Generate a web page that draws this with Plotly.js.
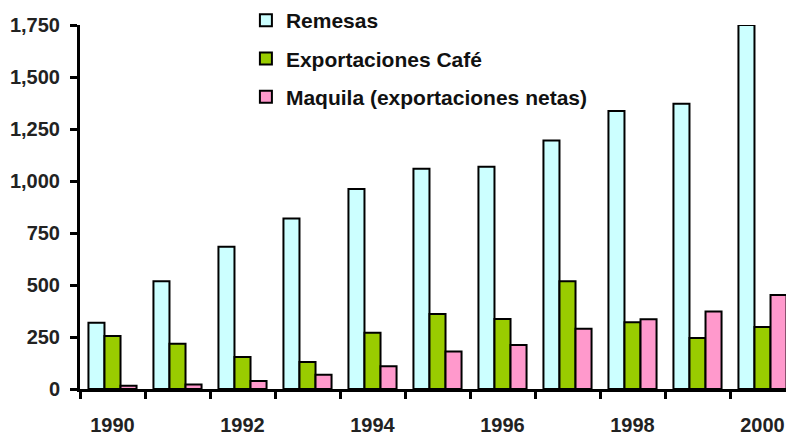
<!DOCTYPE html>
<html>
<head>
<meta charset="utf-8">
<script src="https://cdn.plot.ly/plotly-3.0.1.min.js"></script>
<style>html,body{margin:0;padding:0;background:#fff;overflow:hidden}</style>
</head>
<body>
<div id="chart" style="width:786px;height:441px"></div>
<script>
var years = [1990, 1991, 1992, 1993, 1994, 1995, 1996, 1997, 1998, 1999, 2000];
var tickYears = [1990, 1992, 1994, 1996, 1998, 2000];
var remesas = [318, 518, 684, 820, 961, 1059, 1069, 1195, 1337, 1371, 1750];
var cafe = [255, 218, 154, 130, 271, 361, 337, 518, 321, 245, 298];
var maquila = [16, 22, 38, 69, 109, 180, 212, 290, 335, 372, 452];
var seriesNames = ['Remesas', 'Exportaciones Café', 'Maquila (exportaciones netas)'];
var yTicks = [0, 250, 500, 750, 1000, 1250, 1500, 1750];

var colors = ['#CCFFFF', '#99CC00', '#FF99CC'];
var data = [remesas, cafe, maquila].map(function (vals, i) {
  return {
    type: 'bar', x: years, y: vals, name: seriesNames[i],
    legendgroup: 'g' + i,
    marker: { color: colors[i], line: { color: '#000', width: 2 } }
  };
});

var boundaries = years.map(function (y) { return y - 0.5; });
var tickFontFamily = 'Liberation Sans, Arial, sans-serif';

var layout = {
  width: 786, height: 441,
  margin: { l: 80, r: 0, t: 24, b: 52 },
  paper_bgcolor: '#fff', plot_bgcolor: '#fff',
  barmode: 'group', bargap: 0.26, bargroupgap: 0,
  font: { family: 'Liberation Sans, Arial, sans-serif', color: '#000' },
  showlegend: true,
  legend: {
    x: 0.235, y: 1.07, xanchor: 'left', yanchor: 'top',
    bgcolor: 'rgba(0,0,0,0)', font: { size: 21, color: '#111', weight: 'bold' },
    traceorder: 'grouped', tracegroupgap: 8
  },
  xaxis: {
    range: [1989.5, 1989.5 + 706 / 65],
    tickmode: 'array', tickvals: tickYears, ticktext: tickYears.map(String),
    ticks: '', showgrid: false, zeroline: false,
    showline: true, linecolor: '#000', linewidth: 3,
    ticklabelstandoff: 16,
    tickfont: { family: tickFontFamily, size: 20, color: '#222', weight: 'bold' },
    minor: { tickmode: 'array', tickvals: boundaries, ticks: 'outside', ticklen: 7, tickwidth: 3, tickcolor: '#000', showgrid: false }
  },
  yaxis: {
    range: [0, 1750], tickmode: 'array', tickvals: yTicks,
    tickformat: ',', showgrid: false, zeroline: false,
    showline: true, linecolor: '#000', linewidth: 3,
    ticks: 'outside', ticklen: 7, tickwidth: 3, tickcolor: '#000',
    ticklabelstandoff: 6,
    tickfont: { family: tickFontFamily, size: 20, color: '#222', weight: 'bold' }
  }
};

Plotly.newPlot('chart', data, layout, { displayModeBar: false, staticPlot: true });
</script>
</body>
</html>
